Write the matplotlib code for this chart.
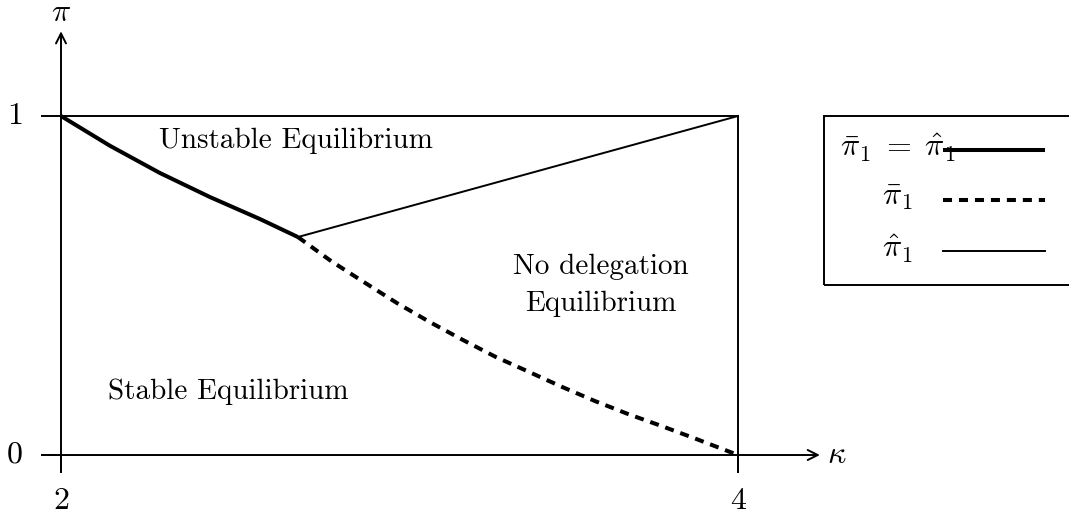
import matplotlib
matplotlib.use("Agg")
import matplotlib.pyplot as plt
from matplotlib.patches import Rectangle

plt.rcParams["font.family"] = "cmr10"
plt.rcParams["mathtext.fontset"] = "cm"
plt.rcParams["axes.formatter.use_mathtext"] = True
plt.rcParams["lines.scale_dashes"] = False

# threshold curves in the (kappa, pi) plane
kappa_solid = [2.0, 2.145, 2.292, 2.440, 2.588, 2.700]
pi_solid = [1.0, 0.912, 0.832, 0.761, 0.696, 0.643]

kappa_dashed = [2.700, 2.798, 2.895, 2.993, 3.090, 3.188, 3.285, 3.383,
                3.480, 3.578, 3.675, 3.773, 3.870, 4.0]
pi_dashed = [0.643, 0.572, 0.510, 0.448, 0.392, 0.339, 0.289, 0.245,
             0.201, 0.159, 0.121, 0.086, 0.050, 0.0]

kappa_hat = [2.700, 4.0]
pi_hat = [0.643, 1.0]

x_ticks = [2, 4]
y_ticks = [0, 1]

W, H = 1069, 516
fig = plt.figure(figsize=(W / 100, H / 100), dpi=100)
ax = fig.add_axes([0, 0, 1, 1])
ax.set_xlim(1.8198, 4.978)
ax.set_ylim(-0.1799, 1.3422)
ax.axis("off")

def px(x, y):
    return x / W, 1 - y / H

black = "black"
fs = 21      # body text
fs_m = 23    # digits and math symbols
ax_lw = 1.4

# axes with arrows
ax.annotate("", xy=(4.242, 0), xytext=(1.944, 0),
            arrowprops=dict(arrowstyle="->", lw=ax_lw, color=black,
                            shrinkA=0, shrinkB=0, mutation_scale=18))
ax.annotate("", xy=(2, 1.25), xytext=(2, -0.05),
            arrowprops=dict(arrowstyle="->", lw=ax_lw, color=black,
                            shrinkA=0, shrinkB=0, mutation_scale=18))
ax.text(4.262, 0, r"$\kappa$", fontsize=fs_m, ha="left", va="center")
ax.text(2.0, 1.262, r"$\pi$", fontsize=fs_m, ha="center", va="bottom")

# tick marks and labels
for k in x_ticks:
    ax.plot([k, k], [0, -0.05], color=black, lw=ax_lw)
    ax.text(k, -0.095, str(k), fontsize=fs_m, ha="center", va="top")
for p in y_ticks:
    ax.plot([1.944, 2], [p, p], color=black, lw=ax_lw)
    ax.text(1.887, p, str(p), fontsize=fs_m, ha="right", va="center")

# region boundaries
ax.plot([2, 4], [1, 1], color=black, lw=ax_lw)
ax.plot([4, 4], [-0.05, 1], color=black, lw=ax_lw)

ax.plot(kappa_hat, pi_hat, color=black, lw=1.4)
ax.plot(kappa_dashed, pi_dashed, color=black, lw=2.9,
        dashes=(6.5, 5), dash_capstyle="butt")
ax.plot(kappa_solid, pi_solid, color=black, lw=2.9, solid_capstyle="butt")

# region labels
ax.text(2.694, 0.926, "Unstable Equilibrium", fontsize=fs, ha="center", va="center")
ax.text(3.595, 0.555, "No delegation", fontsize=fs, ha="center", va="center")
ax.text(3.595, 0.445, "Equilibrium", fontsize=fs, ha="center", va="center")
ax.text(2.494, 0.186, "Stable Equilibrium", fontsize=fs, ha="center", va="center")

# legend box
x0, y0 = px(824, 285)
x1, y1 = px(1080, 116)
ax.add_patch(Rectangle((x0, y0), x1 - x0, y1 - y0, transform=ax.transAxes,
                       fill=False, lw=ax_lw, edgecolor=black))

entries = [
    (r"$\bar{\pi}_1\;=\;\hat{\pi}_1$", 150, dict(lw=2.9, solid_capstyle="butt")),
    (r"$\bar{\pi}_1$", 200, dict(lw=2.9, dashes=(6.5, 5), dash_capstyle="butt")),
    (r"$\hat{\pi}_1$", 251, dict(lw=1.4)),
]
for label, ypx, style in entries:
    xa, ya = px(943, ypx)
    xb, _ = px(1045, ypx)
    ax.plot([xa, xb], [ya, ya], color=black, transform=ax.transAxes, **style)
    tx, ty = px(898, ypx - 2)
    ax.text(tx, ty, label, fontsize=fs_m, ha="center", va="center",
            transform=ax.transAxes)

fig.savefig("out.png", dpi=100)
